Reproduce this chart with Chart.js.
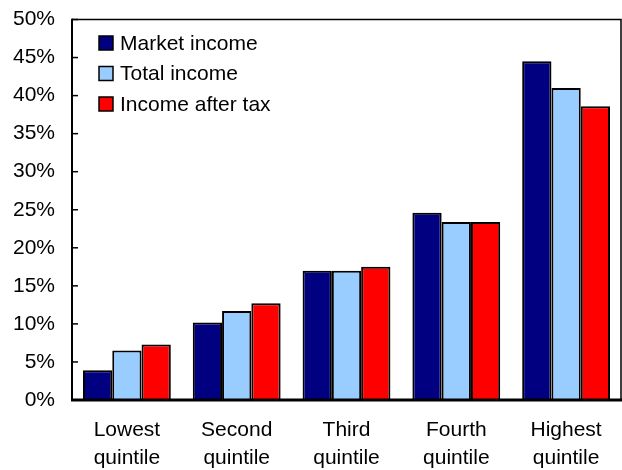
<!DOCTYPE html>
<html>
<head>
<meta charset="utf-8">
<script src="https://cdn.jsdelivr.net/npm/chart.js@4/dist/chart.umd.min.js"></script>
<style>
  html, body { margin: 0; padding: 0; background: #fff; }
  #wrap { width: 622px; height: 470px; }
</style>
</head>
<body>
<div id="wrap"><canvas id="c" width="622" height="470"></canvas></div>
<script>
// Income shares by quintile (percent of total)
const categories = [
  ['Lowest', 'quintile'],
  ['Second', 'quintile'],
  ['Third', 'quintile'],
  ['Fourth', 'quintile'],
  ['Highest', 'quintile']
];
const seriesNames = ['Market income', 'Total income', 'Income after tax'];
const marketIncome = [3.9, 10.2, 17.0, 24.6, 44.5];
const totalIncome = [6.5, 11.7, 17.0, 23.4, 41.0];
const incomeAfterTax = [7.3, 12.7, 17.5, 23.4, 38.6];
const yMin = 0, yMax = 50, yStep = 5;

const colors = ['#000080', '#99CCFF', '#FF0000'];
const FONT = 'Liberation Sans, Arial, sans-serif';

// Pin the plot rectangle so the frame sits where the axes expect it
const areaPlugin = {
  id: 'area',
  afterLayout(chart) {
    const a = chart.chartArea;
    const top = 19.5;
    a.top = top;
    a.height = a.bottom - top;
    const y = chart.scales.y;
    y.top = top;
    y.height = y.bottom - top;
    y.configure();
  }
};

// Frame, inward tick marks and the boxed legend inside the plot
const framePlugin = {
  id: 'frame',
  afterDatasetsDraw(chart) {
    const { ctx, chartArea: a, scales } = chart;
    ctx.save();
    ctx.strokeStyle = '#000';
    // top and right frame
    ctx.lineWidth = 1.5;
    ctx.beginPath();
    ctx.moveTo(a.left, a.top);
    ctx.lineTo(a.right, a.top);
    ctx.lineTo(a.right, a.bottom);
    ctx.stroke();
    // left axis
    ctx.lineWidth = 2;
    ctx.beginPath();
    ctx.moveTo(a.left, a.top - 0.75);
    ctx.lineTo(a.left, a.bottom);
    ctx.stroke();
    // inward y ticks
    ctx.lineWidth = 1.5;
    scales.y.ticks.forEach(t => {
      const y = scales.y.getPixelForValue(t.value);
      ctx.beginPath();
      ctx.moveTo(a.left, y);
      ctx.lineTo(a.left + 6, y);
      ctx.stroke();
    });
    // bottom axis
    ctx.lineWidth = 3;
    ctx.beginPath();
    ctx.moveTo(a.left - 1, a.bottom);
    ctx.lineTo(a.right + 1, a.bottom);
    ctx.stroke();

    // legend
    ctx.font = '21px ' + FONT;
    ctx.textBaseline = 'middle';
    ctx.textAlign = 'left';
    chart.data.datasets.forEach((ds, i) => {
      const cy = 43 + i * 30.5;
      ctx.fillStyle = ds.backgroundColor;
      ctx.fillRect(99, cy - 7, 14, 14);
      ctx.lineWidth = 1.5;
      ctx.strokeStyle = '#000';
      ctx.strokeRect(99, cy - 7, 14, 14);
      ctx.fillStyle = '#000';
      ctx.fillText(ds.label, 120, cy + 1);
    });
    ctx.restore();
  }
};

new Chart(document.getElementById('c'), {
  type: 'bar',
  data: {
    labels: categories,
    datasets: [
      { label: seriesNames[0], data: marketIncome, backgroundColor: colors[0] },
      { label: seriesNames[1], data: totalIncome, backgroundColor: colors[1] },
      { label: seriesNames[2], data: incomeAfterTax, backgroundColor: colors[2] }
    ]
  },
  options: {
    responsive: false,
    animation: false,
    devicePixelRatio: 1,
    layout: { padding: { top: 0, right: 1, left: 0, bottom: 0 } },
    datasets: {
      bar: {
        borderColor: '#000',
        borderWidth: 2,
        categoryPercentage: 0.8,
        barPercentage: 1.0
      }
    },
    plugins: {
      legend: { display: false },
      tooltip: { enabled: false }
    },
    scales: {
      x: {
        grid: { display: false, drawTicks: false },
        border: { display: false },
        ticks: {
          color: '#000',
          font: { family: FONT, size: 21, lineHeight: 1.35 },
          padding: 16,
          maxRotation: 0,
          autoSkip: false
        },
        afterFit(scale) { scale.height = 70; }
      },
      y: {
        min: yMin,
        max: yMax,
        grid: { display: false, drawTicks: false },
        border: { display: false },
        ticks: {
          stepSize: yStep,
          color: '#000',
          font: { family: FONT, size: 21 },
          padding: 17,
          callback: v => v + '%'
        },
        afterFit(scale) { scale.width = 72; }
      }
    }
  },
  plugins: [areaPlugin, framePlugin]
});
</script>
</body>
</html>
